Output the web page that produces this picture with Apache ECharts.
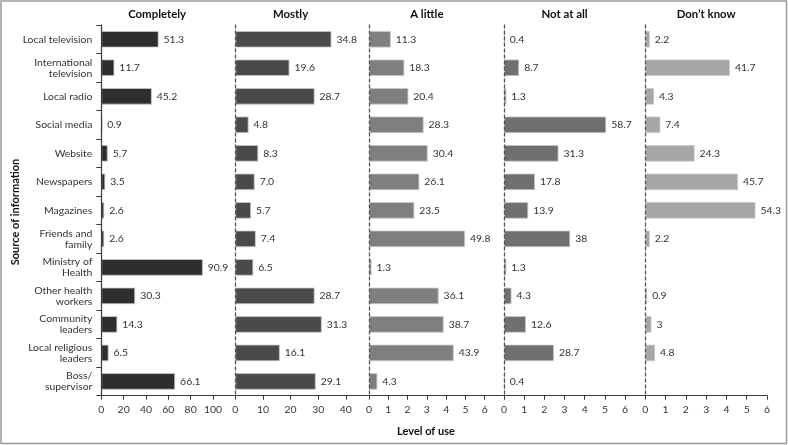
<!DOCTYPE html>
<html>
<head>
<meta charset="utf-8">
<script src="https://cdn.jsdelivr.net/npm/echarts@6/dist/echarts.min.js"></script>
<style>
html,body{margin:0;padding:0;background:#fff;}
#c{width:788px;height:445px;}
</style>
</head>
<body>
<div id="c"></div>
<script>
const categories = ['Local television','International\ntelevision','Local radio','Social media','Website','Newspapers','Magazines','Friends and\nfamily','Ministry of\nHealth','Other health\nworkers','Community\nleaders','Local religious\nleaders','Boss/\nsupervisor'];
const panelTitles = ['Completely','Mostly','A little','Not at all','Don\u2019t know'];
const completely = [51.3,11.7,45.2,0.9,5.7,3.5,2.6,2.6,90.9,30.3,14.3,6.5,66.1];
const mostly = [34.8,19.6,28.7,4.8,8.3,7.0,5.7,7.4,6.5,28.7,31.3,16.1,29.1];
const aLittle = [11.3,18.3,20.4,28.3,30.4,26.1,23.5,49.8,1.3,36.1,38.7,43.9,4.3];
const notAtAll = [0.4,8.7,1.3,58.7,31.3,17.8,13.9,38,1.3,4.3,12.6,28.7,0.4];
const dontKnow = [2.2,41.7,4.3,7.4,24.3,45.7,54.3,2.2,null,0.9,3,4.8,null];
// axis scale per panel: data max, tick step (data units), tick label divisor, last labelled tick
const axisMax = [120, 48.4, 70, 81.2, 60];
const axisStep = [20, 10, 10, 11.6, 10];
const tickDivisor = [1, 1, 10, 11.6, 10];
const lastLabel = [100, 40, 60, 69.6, 60];
const labelFixed = [false, true, false, false, false];

const seriesData = [completely, mostly, aLittle, notAtAll, dontKnow];
const colors = ['#2e2e2e','#4a4a4a','#7f7f7f','#6f6f6f','#a6a6a6'];
const gridLeft = [101.3, 235.3, 369, 504, 645.3];
const gridWidth = [134, 133.7, 135, 141.3, 121.7];
const FONT = 'Lato';
const FS = 10.4;

const grids = [], xAxes = [], yAxes = [], series = [], graphics = [];
for (let i = 0; i < 5; i++) {
  grids.push({left: gridLeft[i], width: gridWidth[i], top: 25, bottom: 49.3, containLabel: false});
  const div = tickDivisor[i];
  const mx = axisMax[i];
  xAxes.push({
    type: 'value', gridIndex: i, min: 0, max: mx, interval: axisStep[i],
    axisLine: {show: true, lineStyle: {color: '#3a3a3a', width: 1.2}},
    axisTick: {show: true, length: 4, lineStyle: {color: '#3a3a3a'}},
    splitLine: {show: false},
    axisLabel: {
      color: '#333', fontFamily: FONT, fontSize: FS, margin: 9,
      showMaxLabel: i === 4,
      formatter: v => (i < 4 && v > lastLabel[i] + 0.01) ? '' : String(Math.round(v / div))
    }
  });
  yAxes.push({
    type: 'category', gridIndex: i, data: categories, inverse: true,
    axisLine: {show: true, lineStyle: i === 0 ? {color: '#3a3a3a', width: 1.2} : {color: '#555', width: 1.3, type: [3, 3]}},
    axisTick: {show: i === 0, length: 5, lineStyle: {color: '#3a3a3a'}},
    axisLabel: {show: i === 0, color: '#333', fontFamily: FONT, fontSize: FS, lineHeight: 11, margin: 9, align: 'right'},
    z: 5
  });
  const fixed = labelFixed[i];
  series.push({
    type: 'bar', xAxisIndex: i, yAxisIndex: i, data: seriesData[i], barWidth: 16.5,
    itemStyle: {color: colors[i], borderColor: '#c9c9c9', borderWidth: 0.8},
    label: {
      show: true, position: 'right', distance: 5, color: '#333', fontFamily: FONT, fontSize: FS,
      formatter: p => (p.value == null ? '' : (fixed ? Number(p.value).toFixed(1) : String(p.value)))
    }
  });
  const cx = gridLeft[i] + gridWidth[i] * (lastLabel[i] / axisMax[i]) / 2;
  graphics.push({
    type: 'text', x: cx, y: 14,
    style: {text: panelTitles[i], textAlign: 'center', textVerticalAlign: 'middle', font: 'bold 11.4px ' + FONT, fill: '#111'}
  });
}
graphics.push({
  type: 'text', x: 15, y: 212, rotation: Math.PI / 2,
  style: {text: 'Source of information', textAlign: 'center', textVerticalAlign: 'middle', font: 'bold 11px ' + FONT, fill: '#111'}
});
graphics.push({
  type: 'text', x: 426, y: 431,
  style: {text: 'Level of use', textAlign: 'center', textVerticalAlign: 'middle', font: 'bold 11px ' + FONT, fill: '#111'}
});
graphics.push({
  type: 'rect', shape: {x: 1, y: 1, width: 785.5, height: 442.5},
  style: {fill: 'none', stroke: '#9a9a9a', lineWidth: 1.5}, silent: true
});

const chart = echarts.init(document.getElementById('c'), null, {renderer: 'canvas'});
chart.setOption({
  animation: false,
  backgroundColor: '#fff',
  grid: grids, xAxis: xAxes, yAxis: yAxes, series: series, graphic: graphics
});
</script>
</body>
</html>
